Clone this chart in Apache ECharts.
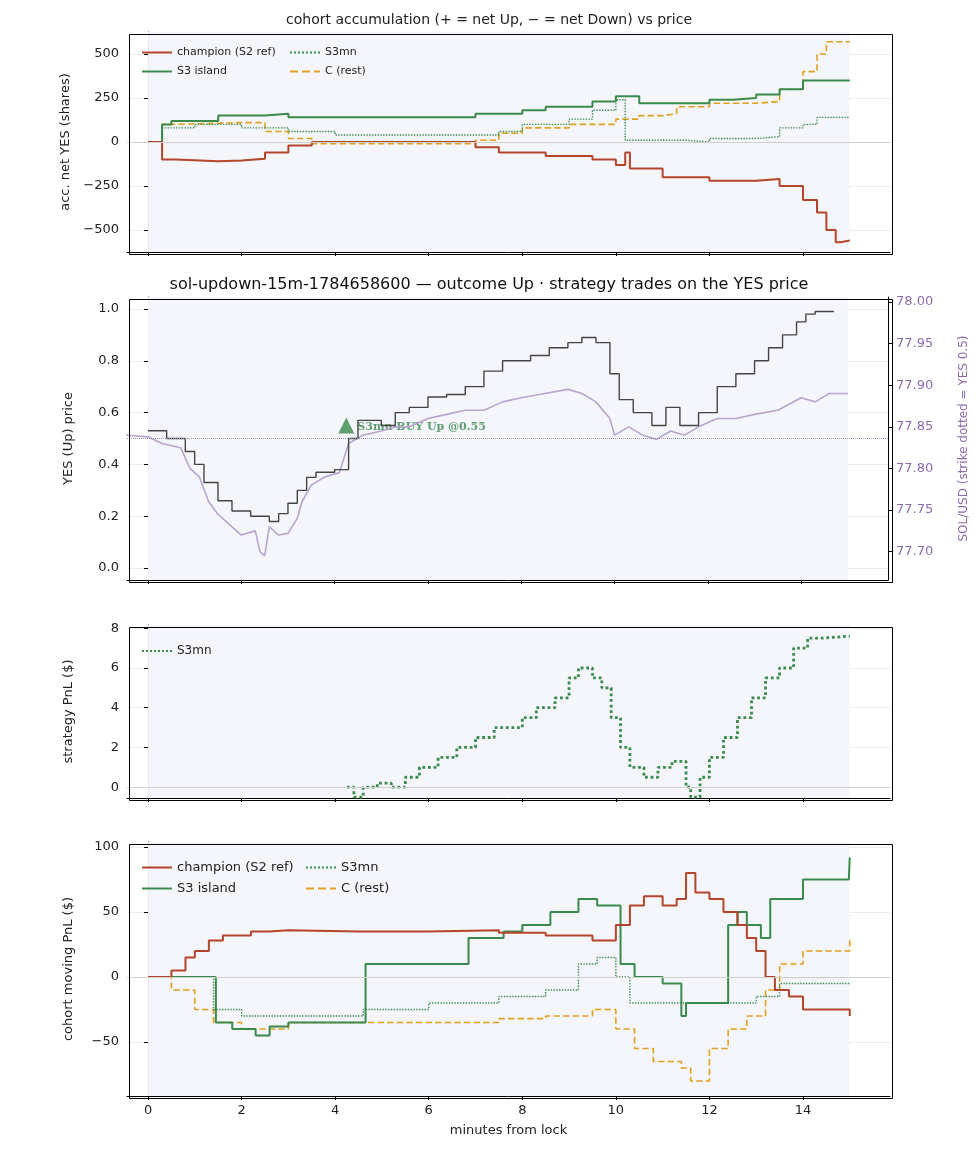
<!DOCTYPE html>
<html><head><meta charset="utf-8">
<script src="https://cdn.jsdelivr.net/npm/echarts@6/dist/echarts.min.js"></script>
<style>html,body{margin:0;background:#fff}#c{width:978px;height:1156px}</style>
</head><body><div id="c"></div>
<script>
// data: [minutes, value], each value holds until the next point
const accChampion = [[0,0],[0.3,-100],[0.6,-110],[1.5,-105],[2,-95],[2.5,-60],[3,-20],[3.5,0],[6.5,0],[7,-30],[7.5,-60],[8.5,-80],[9.5,-100],[10,-130],[10.2,-60],[10.3,-150],[11,-200],[12,-220],[13,-210],[13.5,-250],[14,-330],[14.3,-400],[14.5,-500],[14.7,-570],[14.8,-560],[15,-560]];
const accIsland = [[0,0],[0.3,100],[0.5,120],[1.4,120],[1.5,150],[2.5,160],[3,140],[6.5,140],[7,160],[8,180],[8.5,200],[9.5,230],[10,260],[10.5,220],[11,220],[12,240],[12.5,250],[13,270],[13.5,300],[14,350],[15,350]];
const accS3mn = [[0,0],[0.3,80],[1,100],[2,80],[3,60],[4,40],[7,40],[7.5,60],[8,100],[9,130],[9.5,180],[10,240],[10.2,10],[11.5,0],[12,20],[13,30],[13.5,80],[14,100],[14.3,140],[15,140]];
const accRest = [[0,0],[0.3,100],[0.5,110],[2,110],[2.5,60],[3,20],[3.5,-10],[6.5,-10],[7,10],[7.5,50],[8,80],[9,100],[10,130],[10.5,150],[11,160],[11.3,200],[12,220],[13,230],[13.5,300],[14,400],[14.3,500],[14.5,570],[15,570]];

const yesPrice = [[0,0.53],[0.4,0.5],[0.8,0.45],[1.0,0.4],[1.2,0.33],[1.5,0.26],[1.8,0.22],[2.2,0.2],[2.6,0.18],[2.8,0.21],[3.0,0.25],[3.2,0.3],[3.4,0.35],[3.6,0.37],[4.0,0.38],[4.3,0.5],[4.5,0.57],[5.0,0.55],[5.3,0.6],[5.6,0.62],[6.0,0.66],[6.4,0.67],[6.8,0.7],[7.2,0.76],[7.6,0.8],[8.2,0.82],[8.6,0.85],[9.0,0.87],[9.3,0.89],[9.6,0.87],[9.9,0.75],[10.1,0.65],[10.4,0.6],[10.8,0.55],[11.1,0.62],[11.4,0.55],[11.8,0.6],[12.2,0.7],[12.6,0.75],[13.0,0.8],[13.3,0.85],[13.6,0.9],[13.9,0.95],[14.1,0.98],[14.3,0.99],[14.7,0.99]];
const solPrice = [[-0.5,77.84],[0,77.838],[0.3,77.83],[0.7,77.825],[0.9,77.8],[1.1,77.79],[1.3,77.76],[1.5,77.745],[1.7,77.735],[2.0,77.72],[2.3,77.725],[2.4,77.7],[2.5,77.695],[2.6,77.73],[2.8,77.72],[3.0,77.722],[3.2,77.74],[3.3,77.76],[3.5,77.78],[3.8,77.79],[4.1,77.795],[4.3,77.83],[4.6,77.84],[5.0,77.845],[5.3,77.85],[5.6,77.85],[6.0,77.86],[6.4,77.865],[6.8,77.87],[7.2,77.87],[7.6,77.88],[8.0,77.885],[8.5,77.89],[9.0,77.895],[9.3,77.89],[9.6,77.88],[9.9,77.86],[10.0,77.84],[10.3,77.85],[10.6,77.84],[10.9,77.835],[11.2,77.845],[11.5,77.84],[11.8,77.85],[12.2,77.86],[12.6,77.86],[13.0,77.865],[13.5,77.87],[14.0,77.885],[14.3,77.88],[14.6,77.89],[15.0,77.89]];
const buyMark = [[4.25,0.55]];

const pnlS3mn = [[4.25,0],[4.4,-0.5],[4.6,0],[4.9,0.2],[5.2,0],[5.5,0.5],[5.8,1],[6.2,1.5],[6.6,2],[7.0,2.5],[7.4,3],[7.8,3],[8.0,3.5],[8.3,4],[8.7,4.5],[9.0,5.5],[9.2,6],[9.5,5.5],[9.7,5],[9.9,3.5],[10.1,2],[10.3,1],[10.6,0.5],[10.9,1],[11.2,1.3],[11.5,0],[11.6,-0.5],[11.8,0.5],[12.0,1.5],[12.3,2.5],[12.6,3.5],[12.9,4.5],[13.2,5.5],[13.5,6],[13.8,7],[14.1,7.5],[14.4,7.6],[15,7.6]];

const movChampion = [[0,0],[0.5,5],[0.8,15],[1.0,20],[1.3,28],[1.6,32],[2.2,35],[2.6,36],[3.0,35],[4.5,35],[6,36],[7.5,34],[8.5,32],[9.5,28],[10.0,40],[10.3,55],[10.6,62],[11.0,55],[11.3,60],[11.5,80],[11.7,65],[12.0,60],[12.3,50],[12.6,40],[12.8,30],[13.0,20],[13.2,0],[13.4,-10],[13.7,-15],[14.0,-25],[15,-30]];
const movIsland = [[0,0],[1.4,0],[1.45,-35],[1.8,-40],[2.3,-45],[2.6,-38],[3.0,-35],[4.6,-35],[4.65,10],[6.8,10],[6.85,30],[7.6,35],[8.0,40],[8.6,50],[9.2,60],[9.6,55],[10.1,10],[10.4,0],[11.0,-5],[11.4,-30],[11.5,-20],[12.0,-20],[12.4,40],[12.6,50],[12.8,40],[13.1,30],[13.3,60],[14.0,75],[14.98,75],[15.0,92]];
const movS3mn = [[0,0],[1.4,-25],[2.0,-30],[3.0,-30],[4.6,-25],[6.0,-20],[7.5,-15],[8.5,-10],[9.2,10],[9.6,15],[10.0,0],[10.3,-20],[12.5,-20],[13.0,-15],[13.5,-5],[15,-5]];
const movRest = [[0,0],[0.5,-10],[1.0,-25],[1.4,-35],[2.0,-40],[3.0,-35],[6,-35],[7.5,-32],[8.5,-30],[9.5,-25],[10.0,-40],[10.4,-55],[10.8,-65],[11.4,-70],[11.6,-80],[12.0,-55],[12.4,-40],[12.8,-30],[13.2,-10],[13.5,10],[14,20],[15,30]];

const xTicks = [0,2,4,6,8,10,12,14];

const RED = '#b5452a', GREEN = '#3a8a4c', ORANGE = '#e0a020', GREY = '#444', PURPLE = '#8e6bb0';
const font = 'DejaVu Sans';
const grids = [
  {left: 127, right: 88, top: 32, height: 220},
  {left: 127, right: 88, top: 297, height: 283},
  {left: 127, right: 88, top: 625, height: 173},
  {left: 127, right: 88, top: 842, height: 254}
];
const minus = v => String(v).replace('-', '−');

function xAxis(i) {
  return {
    type: 'value', gridIndex: i, min: -0.45, max: 15.86,
    axisLine: {onZero: false, lineStyle: {color: '#000'}},
    axisTick: {customValues: xTicks, length: 4, lineStyle: {color: '#000'}},
    axisLabel: {show: i === 3, customValues: xTicks, color: '#222', fontSize: 13, fontFamily: font},
    splitLine: {show: true, lineStyle: {color: '#ececec'}},
    name: i === 3 ? 'minutes from lock' : '', nameLocation: 'middle', nameGap: 28,
    nameTextStyle: {fontSize: 13, color: '#222', fontFamily: font}
  };
}
function yAxis(i, min, max, ticks, name, extra) {
  return Object.assign({
    type: 'value', gridIndex: i, min: min, max: max,
    axisLine: {show: true, lineStyle: {color: '#000'}},
    axisTick: {show: true, customValues: ticks, length: 4, lineStyle: {color: '#000'}},
    axisLabel: {customValues: ticks, color: '#222', fontSize: 13, fontFamily: font, formatter: minus},
    splitLine: {show: true, lineStyle: {color: '#ececec'}},
    name: name, nameLocation: 'middle', nameGap: 52, nameRotate: 90,
    nameTextStyle: {fontSize: 13, color: '#222', fontFamily: font}
  }, extra || {});
}

function line(name, data, color, type, xi, yi, w, step) {
  return {
    name: name, type: 'line', data: data, xAxisIndex: xi, yAxisIndex: yi,
    step: step === false ? false : 'end', symbol: 'none', silent: true,
    lineStyle: {color: color, width: w || 2, type: type || 'solid'},
    itemStyle: {color: color}
  };
}
function backdrop(xi, yi) {
  return {
    type: 'line', data: [], xAxisIndex: xi, yAxisIndex: yi, silent: true,
    markArea: {silent: true, itemStyle: {color: '#f4f6fb'}, data: [[{xAxis: 0}, {xAxis: 15}]]},
    markLine: {silent: true, symbol: 'none', label: {show: false},
      lineStyle: {color: '#d0d0d0', type: 'solid', width: 1}, data: [{yAxis: 0}]}
  };
}
function legend(top, left, names, size) {
  return {
    top: top, left: left, orient: 'vertical', itemGap: 8,
    itemWidth: 30, itemHeight: 10, data: names, selectedMode: false,
    itemStyle: {opacity: 0},
    textStyle: {fontSize: size, color: '#222', fontFamily: font}
  };
}
// full box around each panel
const frames = grids.map(g => ({
  type: 'rect', left: g.left, top: g.top, z: 100, silent: true,
  shape: {width: 978 - g.left - g.right, height: g.height},
  style: {fill: 'none', stroke: '#000', lineWidth: 1}
}));

const chart = echarts.init(document.getElementById('c'), null, {renderer: 'canvas'});
chart.setOption({
  animation: false,
  backgroundColor: '#fff',
  graphic: frames,
  title: [
    {text: 'cohort accumulation (+ = net Up, − = net Down) vs price', left: 'center', top: 8,
      textStyle: {fontSize: 14, fontWeight: 'normal', color: '#222', fontFamily: font}},
    {text: 'sol-updown-15m-1784658600 — outcome Up · strategy trades on the YES price', left: 'center', top: 272,
      textStyle: {fontSize: 16, fontWeight: 'normal', color: '#111', fontFamily: font}}
  ],
  legend: [
    legend(42, 136, ['champion (S2 ref)', 'S3 island'], 11),
    legend(42, 284, ['S3mn', 'C (rest)'], 11),
    legend(640, 136, ['S3mn'], 12),
    legend(856, 136, ['champion (S2 ref)', 'S3 island'], 13),
    legend(856, 300, ['S3mn', 'C (rest)'], 13)
  ],
  grid: grids,
  xAxis: [xAxis(0), xAxis(1), xAxis(2), xAxis(3)],
  yAxis: [
    yAxis(0, -625, 625, [-500, -250, 0, 250, 500], 'acc. net YES (shares)'),
    yAxis(1, -0.046, 1.046, [0, 0.2, 0.4, 0.6, 0.8, 1.0], 'YES (Up) price', {axisLabel: {customValues: [0, 0.2, 0.4, 0.6, 0.8, 1.0], color: '#222', fontSize: 13, fontFamily: font, formatter: v => v.toFixed(1)}}),
    yAxis(1, 77.666, 78.006, [77.70, 77.75, 77.80, 77.85, 77.90, 77.95, 78.00], 'SOL/USD (strike dotted = YES 0.5)', {
      position: 'right', splitLine: {show: false}, nameGap: 70,
      axisLabel: {customValues: [77.70, 77.75, 77.80, 77.85, 77.90, 77.95, 78.00], color: PURPLE, fontSize: 13, fontFamily: font, formatter: v => v.toFixed(2)},
      nameTextStyle: {fontSize: 12, color: PURPLE, fontFamily: font}
    }),
    yAxis(2, -0.544, 8.163, [0, 2, 4, 6, 8], 'strategy PnL ($)'),
    yAxis(3, -91.5, 103.8, [-50, 0, 50, 100], 'cohort moving PnL ($)')
  ],
  series: [
    backdrop(0, 0),
    line('C (rest)', accRest, ORANGE, 'dashed', 0, 0, 1.6),
    line('S3mn', accS3mn, GREEN, 'dotted', 0, 0, 1.4),
    line('S3 island', accIsland, GREEN, 'solid', 0, 0, 2),
    line('champion (S2 ref)', accChampion, RED, 'solid', 0, 0, 2),

    {type: 'line', data: [], xAxisIndex: 1, yAxisIndex: 1, silent: true,
      markArea: {silent: true, itemStyle: {color: '#f4f6fb'}, data: [[{xAxis: 0}, {xAxis: 15}]]},
      markLine: {silent: true, symbol: 'none', label: {show: false},
        lineStyle: {color: '#9a8fb0', type: 'dotted', width: 1}, data: [{yAxis: 0.5}]}},
    line('SOL', solPrice, '#b9a4d0', 'solid', 1, 2, 1.6, false),
    line('YES', yesPrice, GREY, 'solid', 1, 1, 1.4),
    {type: 'scatter', data: buyMark, xAxisIndex: 1, yAxisIndex: 1, symbol: 'triangle', symbolSize: 16, silent: true,
      itemStyle: {color: GREEN},
      label: {show: true, position: 'right', offset: [-2, 2], formatter: 'S3mn BUY Up @0.55',
        color: GREEN, fontSize: 11, fontWeight: 'bold', fontFamily: 'DejaVu Serif'}},

    backdrop(2, 3),
    line('S3mn', pnlS3mn, GREEN, 'dotted', 2, 3, 2.8),

    backdrop(3, 4),
    line('C (rest)', movRest, ORANGE, 'dashed', 3, 4, 1.6),
    line('S3mn', movS3mn, GREEN, 'dotted', 3, 4, 1.4),
    line('S3 island', movIsland, GREEN, 'solid', 3, 4, 2),
    line('champion (S2 ref)', movChampion, RED, 'solid', 3, 4, 2)
  ]
});
</script>
</body></html>
